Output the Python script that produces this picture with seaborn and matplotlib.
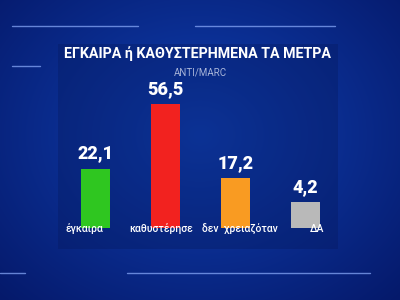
import numpy as np
import pandas as pd
import matplotlib
matplotlib.use("Agg")
import matplotlib.pyplot as plt
import seaborn as sns

categories = ["έγκαιρα", "καθυστέρησε", "δεν  χρειαζόταν", "ΔΑ"]
values = [22.1, 56.5, 17.2, 4.2]
value_labels = ["22,1", "56,5", "17,2", "4,2"]
bar_colors = ["#2fc620", "#f2221f", "#f99b22", "#b9b9b9"]
title = "ΕΓΚΑΙΡΑ ή ΚΑΘΥΣΤΕΡΗΜΕΝΑ ΤΑ ΜΕΤΡΑ"
subtitle = "ANTI/MARC"

sns.set_theme(style="white")
plt.rcParams["font.family"] = ["Roboto", "DejaVu Sans"]

fig = plt.figure(figsize=(4, 3), dpi=100)

# background gradient (decoration)
bg = fig.add_axes([0, 0, 1, 1])
yy, xx = np.mgrid[0:1:300j, 0:1:400j]
r = np.sqrt((xx - 0.5) ** 2 * 1.2 + (yy - 0.45) ** 2)
grad = np.clip(1 - r * 1.3, 0, 1)
c0 = np.array([0.02, 0.10, 0.42])
c1 = np.array([0.06, 0.25, 0.70])
img = c0[None, None, :] + (c1 - c0)[None, None, :] * grad[:, :, None]
bg.imshow(img, aspect="auto", extent=[0, 400, 300, 0])
bg.add_patch(plt.Rectangle((58, 44), 280, 205, color="#06195e", alpha=0.35, lw=0))
for (x0, x1, y) in [(12, 138, 26), (195, 335, 26), (12, 40, 66), (127, 370, 273), (0, 25, 273)]:
    bg.plot([x0, x1], [y, y], color="#8fb0ff", lw=1, alpha=0.7)
bg.set_xlim(0, 400)
bg.set_ylim(300, 0)
bg.axis("off")

ax = fig.add_axes([0, 0, 1, 1])
ax.patch.set_alpha(0)
df = pd.DataFrame({"cat": categories, "val": values})
sns.barplot(data=df, x="cat", y="val", hue="cat", palette=bar_colors,
            legend=False, width=0.41, ax=ax, saturation=1)

offset = 9.6
for p in ax.patches:
    h = p.get_height()
    p.set_y(-offset)
    p.set_height(h + offset)
    p.set_edgecolor("none")

ax.set_xlim(-1.364, 4.35)
ax.set_ylim(-48.0, 112.06)
ax.axis("off")

for i, (v, lab) in enumerate(zip(values, value_labels)):
    ax.text(i, v + 3.2, lab, ha="center", va="bottom", color="white",
            fontsize=13, fontweight=900)

label_dx = [-0.16, -0.06, 0.06, 0.16]
for i, c in enumerate(categories):
    ax.text(i + label_dx[i], -10.0, c, ha="center", va="center",
            color="white", fontsize=7.5, fontweight="medium")

fig.text(0.495, 0.82, title, ha="center", va="center", color="white",
         fontsize=10.3, fontweight="bold")
fig.text(0.5, 0.76, subtitle, ha="center", va="center", color="#a8b4d8",
         fontsize=7)

fig.savefig("out.png", dpi=100)
